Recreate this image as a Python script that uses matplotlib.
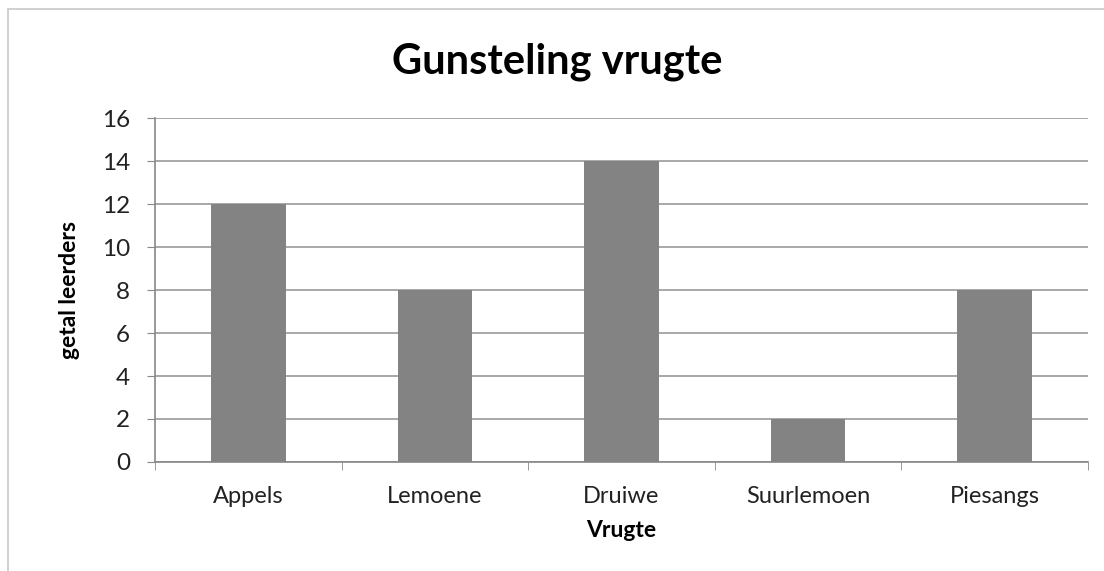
import matplotlib
matplotlib.use("Agg")
import matplotlib.pyplot as plt
from matplotlib.patches import Rectangle
import numpy as np

categories = ["Appels", "Lemoene", "Druiwe", "Suurlemoen", "Piesangs"]
values = [12, 8, 14, 2, 8]
yticks = [0, 2, 4, 6, 8, 10, 12, 14, 16]

plt.rcParams['font.family'] = ['Lato', 'DejaVu Sans']

fig = plt.figure(figsize=(11.04, 5.71), dpi=100)
ax = fig.add_axes([0.1405, 0.191, 0.845, 0.602])

x = np.arange(len(categories))
ax.bar(x, values, width=0.4, color="#838383", zorder=3)
ax.set_xlim(-0.5, len(categories) - 0.5)
ax.set_ylim(0, 16)
ax.set_yticks(yticks)
ax.set_yticklabels([str(v) for v in yticks], fontsize=17.5, color="#222222")
ax.set_xticks(x)
ax.set_xticklabels(categories, fontsize=17, color="#222222")
ax.tick_params(axis='x', length=0, pad=17)
ax.set_xticks(np.arange(-0.5, len(categories)), minor=True)
ax.tick_params(axis='x', which='minor', length=6, color="#888888", direction='out')
ax.tick_params(axis='y', length=6, color="#888888", direction='out', pad=12)
ax.grid(axis='y', color="#9a9a9a", linewidth=1.2, zorder=0)
for s in ['top', 'right']:
    ax.spines[s].set_visible(False)
for s in ['left', 'bottom']:
    ax.spines[s].set_color("#888888")
    ax.spines[s].set_linewidth(1.2)

ax.set_xlabel("Vrugte", fontsize=16.5, fontweight='bold', labelpad=10)
ax.set_ylabel("getal leerders", fontsize=16.5, fontweight='bold', labelpad=16)
fig.suptitle("Gunsteling vrugte", fontsize=30, fontweight='bold', y=0.925, x=0.505)

fig.patches.append(Rectangle((0.007, -0.01), 1.0, 0.995, transform=fig.transFigure,
                             fill=False, edgecolor="#c8c8c8", linewidth=1.2))

fig.savefig("out.png", dpi=100, facecolor="white")
